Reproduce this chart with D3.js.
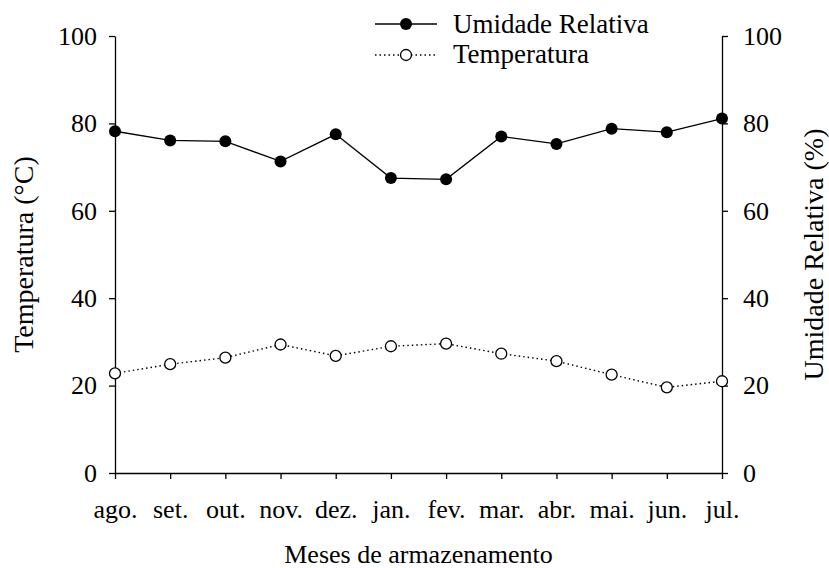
<!DOCTYPE html>
<html>
<head>
<meta charset="utf-8">
<script src="https://cdn.jsdelivr.net/npm/d3@7"></script>
<style>
  body { margin: 0; background: #fff; }
  text { font-family: "Liberation Serif", "Times New Roman", serif; fill: #000; }
</style>
</head>
<body>
<div id="chart"></div>
<script>
// setting up constants
const FRAME_WIDTH = 829;
const FRAME_HEIGHT = 568;
const MARGINS = {left: 115, right: 107, top: 36, bottom: 95};
const VIS_WIDTH = FRAME_WIDTH - MARGINS.left - MARGINS.right;
const VIS_HEIGHT = FRAME_HEIGHT - MARGINS.top - MARGINS.bottom;
const FONT = "'Liberation Serif', 'Times New Roman', serif";

// data
const months = ["ago.", "set.", "out.", "nov.", "dez.", "jan.", "fev.", "mar.", "abr.", "mai.", "jun.", "jul."];
const umidade = [78.2, 76.1, 75.9, 71.3, 77.5, 67.5, 67.2, 77.0, 75.3, 78.8, 78.0, 81.1];
const temperatura = [22.8, 24.9, 26.4, 29.4, 26.8, 29.0, 29.6, 27.3, 25.6, 22.5, 19.6, 21.0];
const yTicks = [0, 20, 40, 60, 80, 100];

const svg = d3.select("#chart")
    .append("svg")
        .attr("width", FRAME_WIDTH)
        .attr("height", FRAME_HEIGHT);

const FRAME = svg.append("g")
    .attr("transform", "translate(" + MARGINS.left + "," + MARGINS.top + ")");

// scales
const xScale = d3.scalePoint()
    .domain(months)
    .range([0, VIS_WIDTH]);

const yLeft = d3.scaleLinear().domain([0, 100]).range([VIS_HEIGHT, 0]);
const yRight = d3.scaleLinear().domain([0, 100]).range([VIS_HEIGHT, 0]);

// axes
const xAxis = FRAME.append("g")
    .attr("transform", "translate(0," + VIS_HEIGHT + ")")
    .call(d3.axisBottom(xScale).tickSize(6).tickPadding(21).tickSizeOuter(0));

const leftAxis = FRAME.append("g")
    .call(d3.axisLeft(yLeft).tickValues(yTicks).tickSize(6).tickPadding(12).tickSizeOuter(0));

const rightAxis = FRAME.append("g")
    .attr("transform", "translate(" + VIS_WIDTH + ",0)")
    .call(d3.axisRight(yRight).tickValues(yTicks).tickSize(6).tickPadding(15).tickSizeOuter(0));

[xAxis, leftAxis, rightAxis].forEach(function(a) {
    a.selectAll("path, line").attr("stroke", "#000").attr("stroke-width", 1.3);
    a.selectAll("text")
        .style("font-family", FONT)
        .style("font-size", "26px")
        .attr("fill", "#000");
});

// temperatura line (dotted)
const line = d3.line()
    .x(function(d, i) { return xScale(months[i]); })
    .y(function(d) { return yLeft(d); });

FRAME.append("path")
    .datum(temperatura)
    .attr("d", line)
    .attr("fill", "none")
    .attr("stroke", "#000")
    .attr("stroke-width", 1.4)
    .attr("stroke-dasharray", "1.5,3");

FRAME.append("path")
    .datum(umidade)
    .attr("d", d3.line()
        .x(function(d, i) { return xScale(months[i]); })
        .y(function(d) { return yRight(d); }))
    .attr("fill", "none")
    .attr("stroke", "#000")
    .attr("stroke-width", 1.3);

FRAME.append("g")
    .selectAll("circle")
    .data(temperatura)
    .enter()
    .append("circle")
        .attr("cx", function(d, i) { return xScale(months[i]); })
        .attr("cy", function(d) { return yLeft(d); })
        .attr("r", 5.5)
        .attr("fill", "#fff")
        .attr("stroke", "#000")
        .attr("stroke-width", 1.3);

FRAME.append("g")
    .selectAll("circle")
    .data(umidade)
    .enter()
    .append("circle")
        .attr("cx", function(d, i) { return xScale(months[i]); })
        .attr("cy", function(d) { return yRight(d); })
        .attr("r", 6)
        .attr("fill", "#000");

// axis titles
svg.append("text")
    .attr("x", MARGINS.left + VIS_WIDTH / 2)
    .attr("y", 563)
    .attr("text-anchor", "middle")
    .style("font-size", "26px")
    .text("Meses de armazenamento");

svg.append("text")
    .attr("transform", "translate(33," + (MARGINS.top + VIS_HEIGHT / 2) + ") rotate(-90)")
    .attr("text-anchor", "middle")
    .style("font-size", "28px")
    .text("Temperatura (°C)");

svg.append("text")
    .attr("transform", "translate(823," + (MARGINS.top + VIS_HEIGHT / 2) + ") rotate(-90)")
    .attr("text-anchor", "middle")
    .style("font-size", "28px")
    .text("Umidade Relativa (%)");

// legend
const legend = svg.append("g").attr("transform", "translate(375,0)");

legend.append("line")
    .attr("x1", 0).attr("x2", 62).attr("y1", 24).attr("y2", 24)
    .attr("stroke", "#000").attr("stroke-width", 1.3);
legend.append("circle")
    .attr("cx", 31).attr("cy", 24).attr("r", 6).attr("fill", "#000");
legend.append("text")
    .attr("x", 78).attr("y", 33)
    .style("font-size", "27px")
    .text("Umidade Relativa");

legend.append("line")
    .attr("x1", 0).attr("x2", 62).attr("y1", 55).attr("y2", 55)
    .attr("stroke", "#000").attr("stroke-width", 1.4)
    .attr("stroke-dasharray", "1.5,3");
legend.append("circle")
    .attr("cx", 31).attr("cy", 55).attr("r", 5.5)
    .attr("fill", "#fff").attr("stroke", "#000").attr("stroke-width", 1.3);
legend.append("text")
    .attr("x", 78).attr("y", 63)
    .style("font-size", "27px")
    .text("Temperatura");
</script>
</body>
</html>
